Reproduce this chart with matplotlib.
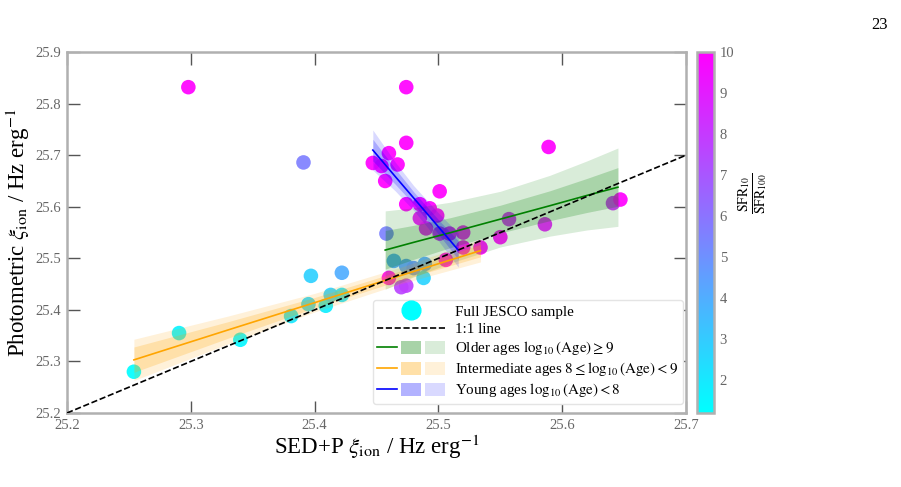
import numpy as np
import matplotlib
matplotlib.use("Agg")
import matplotlib.pyplot as plt
from matplotlib.lines import Line2D
from matplotlib.patches import Patch
from matplotlib.legend_handler import HandlerTuple

plt.rcParams['font.family'] = ['Liberation Serif', 'DejaVu Serif']
plt.rcParams['mathtext.fontset'] = 'stix'

# galaxies: SED+P xi_ion, photometric xi_ion, SFR10/SFR100
sed_xi = [25.254, 25.2905, 25.340, 25.381, 25.395, 25.397, 25.409, 25.413, 25.422, 25.422,
          25.298, 25.391, 25.474, 25.474, 25.589, 25.447, 25.454, 25.460, 25.467, 25.457,
          25.501, 25.474, 25.485, 25.493, 25.499, 25.485, 25.490, 25.458, 25.501, 25.509,
          25.520, 25.520, 25.534, 25.506, 25.550, 25.557, 25.586, 25.641, 25.647, 25.460,
          25.464, 25.474, 25.480, 25.489, 25.488, 25.470, 25.474]
phot_xi = [25.280, 25.355, 25.342, 25.388, 25.411, 25.466, 25.408, 25.429, 25.472, 25.429,
           25.832, 25.686, 25.832, 25.724, 25.716, 25.685, 25.679, 25.704, 25.682, 25.650,
           25.630, 25.605, 25.605, 25.597, 25.583, 25.578, 25.558, 25.548, 25.548, 25.548,
           25.550, 25.521, 25.521, 25.497, 25.541, 25.576, 25.566, 25.607, 25.614, 25.462,
           25.495, 25.485, 25.481, 25.489, 25.462, 25.444, 25.447]
sfr_ratio = [1.3, 1.6, 1.5, 2.0, 2.6, 2.8, 1.8, 2.8, 4.0, 2.2,
             10, 5.6, 10, 10, 10, 10, 10, 10, 10, 10,
             10, 10, 10, 10, 10, 9.5, 9.5, 5.5, 9.0, 9.5,
             9.5, 10, 10, 10, 10, 8.8, 9.2, 8.5, 10, 10,
             4.2, 4.5, 4.8, 4.2, 2.7, 7.6, 7.8]

# fit lines and confidence bands
old_x = [25.457, 25.48, 25.51, 25.55, 25.59, 25.62, 25.645]
old_fit = [25.516, 25.531, 25.550, 25.576, 25.602, 25.622, 25.638]
old_in_lo = [25.479, 25.498, 25.521, 25.549, 25.573, 25.589, 25.601]
old_in_hi = [25.554, 25.564, 25.579, 25.603, 25.631, 25.655, 25.676]
old_out_lo = [25.440, 25.464, 25.491, 25.522, 25.543, 25.555, 25.562]
old_out_hi = [25.592, 25.598, 25.609, 25.630, 25.661, 25.689, 25.714]

mid_x = [25.254, 25.33, 25.40, 25.47, 25.534]
mid_fit = [25.303, 25.361, 25.414, 25.467, 25.515]
mid_in_lo = [25.279, 25.345, 25.404, 25.458, 25.503]
mid_in_hi = [25.328, 25.377, 25.424, 25.476, 25.527]
mid_out_lo = [25.263, 25.334, 25.396, 25.451, 25.493]
mid_out_hi = [25.343, 25.388, 25.432, 25.483, 25.537]

young_x = [25.447, 25.465, 25.48, 25.50, 25.516]
young_fit = [25.710, 25.659, 25.617, 25.561, 25.516]
young_in_lo = [25.689, 25.644, 25.605, 25.547, 25.498]
young_in_hi = [25.731, 25.674, 25.629, 25.575, 25.534]
young_out_lo = [25.671, 25.631, 25.593, 25.534, 25.483]
young_out_hi = [25.749, 25.687, 25.641, 25.588, 25.549]

fig = plt.figure(figsize=(9.01, 4.87), dpi=100)
ax = fig.add_axes([0.0744, 0.152, 0.687, 0.741])
cax = fig.add_axes([0.7736, 0.152, 0.0189, 0.741])

sc = ax.scatter(sed_xi, phot_xi, c=sfr_ratio, cmap='cool', vmin=1.2, vmax=10,
                s=110, alpha=0.92, edgecolors='none', zorder=2)

ax.plot([25.2, 25.7], [25.2, 25.7], 'k--', lw=1.2, zorder=5)

groups = [
    (old_x, old_fit, old_in_lo, old_in_hi, old_out_lo, old_out_hi, 'green'),
    (mid_x, mid_fit, mid_in_lo, mid_in_hi, mid_out_lo, mid_out_hi, 'orange'),
    (young_x, young_fit, young_in_lo, young_in_hi, young_out_lo, young_out_hi, 'blue'),
]
for gx, gfit, ilo, ihi, olo, ohi, col in groups:
    ax.fill_between(gx, olo, ohi, color=col, alpha=0.15, lw=0, zorder=3)
    ax.fill_between(gx, ilo, ihi, color=col, alpha=0.22, lw=0, zorder=3)
    ax.plot(gx, gfit, color=col, lw=1.2, zorder=4)

ax.set_xlim(25.2, 25.7)
ax.set_ylim(25.2, 25.9)
ax.set_xticks([25.2, 25.3, 25.4, 25.5, 25.6, 25.7])
ax.set_yticks([25.2, 25.3, 25.4, 25.5, 25.6, 25.7, 25.8, 25.9])
ax.tick_params(direction='in', length=9, width=1, color='#555555', labelcolor='#666666',
               labelsize=10.5, top=True, right=True, pad=4)
for sp in ax.spines.values():
    sp.set_color('#b0b0b0')
    sp.set_linewidth(1.8)

ax.set_xlabel(r'SED+P $\xi_{\rm ion}$ / Hz erg$^{-1}$', fontsize=16.5, labelpad=1)
ax.set_ylabel(r'Photometric $\xi_{\rm ion}$ / Hz erg$^{-1}$', fontsize=16.5, labelpad=3)

handles = [
    Line2D([], [], marker='o', ls='none', color='cyan', markersize=13.5),
    Line2D([], [], color='k', ls='--', lw=1.2),
    (Line2D([], [], color='green', lw=1.2), Patch(color='green', alpha=0.34, lw=0),
     Patch(color='green', alpha=0.15, lw=0)),
    (Line2D([], [], color='orange', lw=1.2), Patch(color='orange', alpha=0.34, lw=0),
     Patch(color='orange', alpha=0.15, lw=0)),
    (Line2D([], [], color='blue', lw=1.2), Patch(color='blue', alpha=0.30, lw=0),
     Patch(color='blue', alpha=0.15, lw=0)),
]
labels = ['Full JESCO sample', '1:1 line',
          r'Older ages $\log_{10}(\mathrm{Age}) \geq 9$',
          r'Intermediate ages $8 \leq \log_{10}(\mathrm{Age}) < 9$',
          r'Young ages $\log_{10}(\mathrm{Age}) < 8$']
leg = ax.legend(handles, labels, loc='lower right', fontsize=10.8,
                handler_map={tuple: HandlerTuple(ndivide=None, pad=0.3)},
                handlelength=4.5, handleheight=0.9, labelspacing=0.2,
                borderpad=0.3, handletextpad=0.7, framealpha=1, borderaxespad=0,
                fancybox=True, bbox_to_anchor=(0.995, 0.025))
leg.get_frame().set_edgecolor('#e4e4e4')
leg.set_zorder(10)

cb = fig.colorbar(sc, cax=cax, ticks=[2, 3, 4, 5, 6, 7, 8, 9, 10])
cb.solids.set_alpha(1)
cb.outline.set_edgecolor('#b0b0b0')
cb.outline.set_linewidth(1.8)
cax.tick_params(length=0, labelcolor='#666666', labelsize=10.5, pad=4)
cb.set_label(r'$\frac{\rm SFR_{10}}{\rm SFR_{100}}$', fontsize=14)
cax.yaxis.set_label_coords(2.3, 0.61)

fig.text(0.985, 0.965, '23', ha='right', va='top', fontsize=12)

fig.savefig('out.png', dpi=100)
